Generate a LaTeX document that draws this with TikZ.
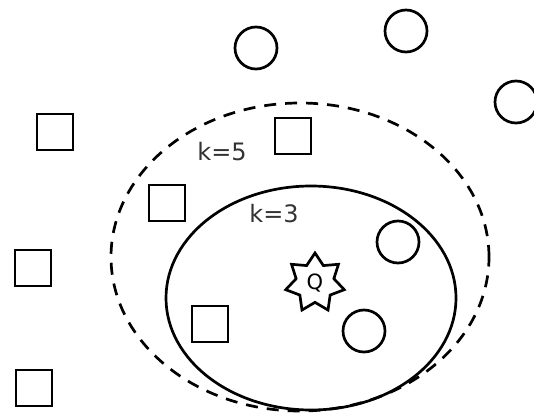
\documentclass[tikz,border=0pt]{standalone}
\usepackage{fontspec}
\setmainfont{DejaVu Sans}
\usetikzlibrary{shapes.geometric}

\begin{document}
\begin{tikzpicture}[x=1pt,y=-1pt,
  dot/.style={circle,draw,line width=2.7pt,minimum size=42pt,inner sep=0pt},
  box/.style={rectangle,draw,line width=2.7pt,minimum size=36pt,inner sep=0pt},
  query/.style={star,star points=7,star point ratio=1.55,draw,line width=2.7pt,minimum size=60pt,inner sep=0pt,font=\fontsize{21}{25}\selectfont},
  ring/.style={ellipse,draw,line width=2.7pt,inner sep=0pt},
  tag/.style={font=\fontsize{24}{28}\selectfont,text=black!80}]
  \useasboundingbox (0,0) rectangle (534,414);
  % the two neighbourhoods
  \node[ring,dash pattern=on 12pt off 9pt,minimum width=378pt,minimum height=308pt] (K5) at (300,257) {};
  \node[ring,minimum width=290pt,minimum height=224pt] (K3) at (311,298) {};
  % circles
  \foreach \x/\y [count=\i] in {256/48,406/31,516/102,398/242,364/331} {
    \node[dot,fill=white] (C\i) at (\x,\y) {};
  }
  % squares
  \foreach \x/\y [count=\i] in {55/132,293/136,167/203,33/268,210/324,34/388} {
    \node[box,fill=white] (S\i) at (\x,\y) {};
  }
  \node[query,fill=white] (Q) at (315,283) {Q};
  \node[tag] (L5) at (222,152) {k=5};
  \node[tag] (L3) at (274,214) {k=3};
\end{tikzpicture}
\end{document}
